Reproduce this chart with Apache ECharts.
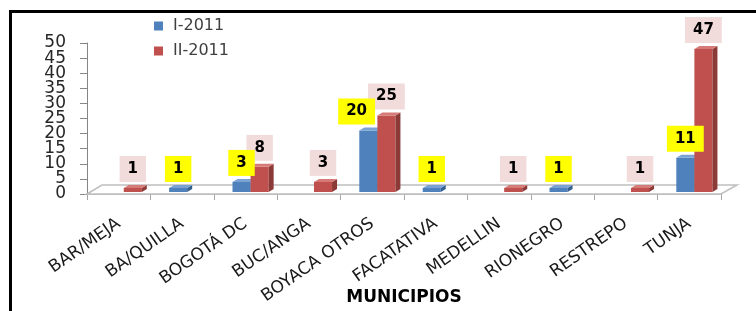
<!DOCTYPE html>
<html>
<head>
<meta charset="utf-8">
<script src="https://cdn.jsdelivr.net/npm/echarts@6/dist/echarts.min.js"></script>
<style>
  html, body { margin: 0; padding: 0; background: #fff; }
  #chart { width: 756px; height: 311px; }
</style>
</head>
<body>
<div id="chart"></div>
<script>
  // datos
  const municipios = ['BAR/MEJA', 'BA/QUILLA', 'BOGOTÁ DC', 'BUC/ANGA', 'BOYACA OTROS',
                      'FACATATIVA', 'MEDELLIN', 'RIONEGRO', 'RESTREPO', 'TUNJA'];
  const periodo1 = [null, 1, 3, null, 20, 1, null, 1, null, 11];   // I-2011
  const periodo2 = [1, null, 8, 3, 25, null, 1, null, 1, 47];      // II-2011
  const yTicks = [0, 5, 10, 15, 20, 25, 30, 35, 40, 45, 50];
  const yMin = 0, yMax = 50, yStep = 5;

  const myChart = echarts.init(document.getElementById('chart'), null, { renderer: 'canvas' });

  const OFF1 = -0.205, OFF2 = 0.08, BAR_W = 0.285;
  const LABEL_FONT = 'bold 15px "DejaVu Sans"';

  function toData(list) {
    // solo barras con valor
    return list.map((v, i) => [i, v]).filter(d => d[1] != null);
  }

  function textWidth(t) {
    return String(t).length * 10.4;
  }

  // geometría de la cara frontal de una barra
  function barBox(api, i, v, offset) {
    const base = api.coord([i, 0]);
    const top = api.coord([i, v]);
    const band = api.size([1, 0])[0];
    const w = band * BAR_W;
    return { x: base[0] + band * offset, w: w, y0: base[1] - 2, yv: top[1] - 3 };
  }

  // barra con efecto 3D: frente, lateral y tapa
  function bar3d(offset, colors) {
    return function (params, api) {
      const b = barBox(api, api.value(0), api.value(1), offset);
      const x = b.x, w = b.w, y0 = b.y0, yv = b.yv;
      const dx = 5, dy = -3;
      return {
        type: 'group',
        children: [
          { type: 'rect', shape: { x: x, y: yv, width: w, height: y0 - yv }, style: { fill: colors[0] } },
          { type: 'polygon', shape: { points: [[x + w, y0], [x + w + dx, y0 + dy], [x + w + dx, yv + dy], [x + w, yv]] },
            style: { fill: colors[1] } },
          { type: 'polygon', shape: { points: [[x, yv], [x + dx, yv + dy], [x + w + dx, yv + dy], [x + w, yv]] },
            style: { fill: colors[2] } }
        ]
      };
    };
  }

  // etiquetas con recuadro de color
  function labelItem(offset, bg, other) {
    return function (params, api) {
      const i = api.value(0), v = api.value(1);
      const b = barBox(api, i, v, offset);
      let cx = b.x + b.w / 2;
      const bottom = b.yv - 6;
      if (other && other[i] != null) {
        // si choca con la etiqueta de la otra serie se corre a la izquierda
        const o = barBox(api, i, other[i], OFF2);
        const oLeft = o.x + o.w / 2 - (textWidth(other[i]) + 16) / 2;
        const oBottom = o.yv - 6;
        const right = cx + (textWidth(v) + 16) / 2;
        if (bottom - 26 < oBottom && right - oLeft > 12) cx -= right - oLeft - 7;
      }
      return {
        type: 'text', x: cx, y: bottom,
        style: { text: String(v), align: 'center', verticalAlign: 'bottom',
                 font: LABEL_FONT, fill: '#000', lineHeight: 16,
                 backgroundColor: bg, padding: [5, 8] }
      };
    };
  }

  const option = {
    animation: false,
    grid: { left: 87, right: 35, top: 43, bottom: 117, containLabel: false, outerBoundsMode: 'none' },
    legend: {
      data: ['I-2011', 'II-2011'],
      orient: 'vertical',
      left: 154,
      top: 18,
      padding: 0,
      itemGap: 9,
      icon: 'rect',
      itemWidth: 9,
      itemHeight: 9,
      textStyle: { fontSize: 16, color: '#404040', fontFamily: 'DejaVu Sans', padding: [0, 0, 0, 5] }
    },
    graphic: [
      { type: 'rect', silent: true, shape: { x: 10.5, y: 11.5, width: 800, height: 400 },
        style: { stroke: '#000', fill: null, lineWidth: 3 } }
    ],
    xAxis: {
      type: 'category',
      data: municipios,
      axisLine: { lineStyle: { color: '#bfbfbf', width: 2 } },
      axisTick: { show: true, length: 6, lineStyle: { color: '#a6a6a6' } },
      axisLabel: { interval: 0, rotate: 35, margin: 28, fontSize: 17, color: '#1a1a1a', fontFamily: 'DejaVu Sans' },
      name: 'MUNICIPIOS',
      nameLocation: 'middle',
      nameGap: 95,
      nameMoveOverlap: false,
      nameTextStyle: { fontSize: 17, fontWeight: 'bold', color: '#000', fontFamily: 'DejaVu Sans' }
    },
    yAxis: {
      type: 'value',
      min: yMin,
      max: yMax,
      interval: yStep,
      splitLine: { show: false },
      axisLine: { show: true, lineStyle: { color: '#868686' } },
      axisTick: { show: true, length: 7, lineStyle: { color: '#868686' } },
      axisLabel: { show: false }
    },
    series: [
      {
        // piso del gráfico
        name: 'piso',
        type: 'custom',
        silent: true,
        z: 1,
        data: [[0, 0]],
        renderItem: function (params, api) {
          const band = api.size([1, 0])[0];
          const a = api.coord([0, 0]);
          const b = api.coord([municipios.length - 1, 0]);
          const left = a[0] - band / 2, right = b[0] + band / 2, y = a[1];
          return {
            type: 'polygon',
            shape: { points: [[left, y], [left + 15, y - 9], [right + 16, y - 9], [right, y]] },
            style: { fill: '#fff', stroke: '#bfbfbf', lineWidth: 1.5 }
          };
        }
      },
      {
        // números del eje vertical (muy juntos, el eje los ocultaría)
        name: 'eje y',
        type: 'custom',
        silent: true,
        clip: false,
        z: 2,
        encode: { x: 0, y: 1 },
        data: yTicks.map(v => [0, v]),
        renderItem: function (params, api) {
          const band = api.size([1, 0])[0];
          const p = api.coord([0, api.value(1)]);
          return {
            type: 'text', x: p[0] - band / 2 - 21, y: p[1],
            style: { text: String(api.value(1)), align: 'right', verticalAlign: 'middle',
                     font: '17px "DejaVu Sans"', fill: '#262626' }
          };
        }
      },
      {
        name: 'I-2011',
        type: 'custom',
        z: 3,
        itemStyle: { color: '#4f81bd' },
        encode: { x: 0, y: 1 },
        data: toData(periodo1),
        renderItem: bar3d(OFF1, ['#4f81bd', '#36608f', '#7aa3d4'])
      },
      {
        name: 'II-2011',
        type: 'custom',
        z: 4,
        itemStyle: { color: '#c0504d' },
        encode: { x: 0, y: 1 },
        data: toData(periodo2),
        renderItem: bar3d(OFF2, ['#c0504d', '#8c3a37', '#d67a77'])
      },
      {
        name: 'etiqueta II',
        type: 'custom',
        silent: true,
        z: 6,
        encode: { x: 0, y: 1 },
        data: toData(periodo2),
        renderItem: labelItem(OFF2, '#f2dcdb', null)
      },
      {
        name: 'etiqueta I',
        type: 'custom',
        silent: true,
        z: 7,
        encode: { x: 0, y: 1 },
        data: toData(periodo1),
        renderItem: labelItem(OFF1, '#ffff00', periodo2)
      }
    ]
  };

  myChart.setOption(option);
</script>
</body>
</html>
